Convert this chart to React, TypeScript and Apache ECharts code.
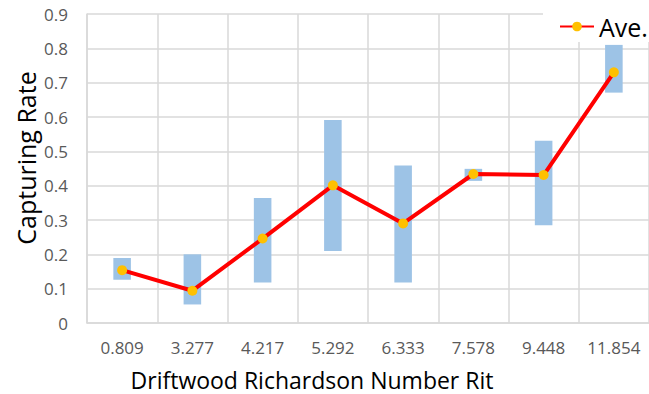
import React, { useEffect, useRef } from "react";
import * as echarts from "echarts";

const categories = ["0.809", "3.277", "4.217", "5.292", "6.333", "7.578", "9.448", "11.854"];
const minValues = [0.126, 0.054, 0.118, 0.21, 0.118, 0.414, 0.285, 0.671];
const maxValues = [0.189, 0.2, 0.364, 0.591, 0.459, 0.449, 0.531, 0.81];
const aveValues = [0.154, 0.094, 0.246, 0.401, 0.29, 0.434, 0.431, 0.73];
const yTicks = [0, 0.1, 0.2, 0.3, 0.4, 0.5, 0.6, 0.7, 0.8, 0.9];

const FONT = "'Open Sans', 'Noto Sans', sans-serif";

export default function App() {
  const ref = useRef<HTMLDivElement>(null);
  useEffect(() => {
    if (!ref.current) return;
    const chart = echarts.init(ref.current, undefined, { renderer: "svg" });
    const ranges = maxValues.map((m, i) => +(m - minValues[i]).toFixed(3));
    chart.setOption({
      animation: false,
      backgroundColor: "#ffffff",
      grid: { left: 87, right: -2, top: 14, bottom: 71, containLabel: false },
      legend: {
        data: ["Ave."],
        left: 543,
        top: 0,
        padding: [14, 12, 3, 16],
        backgroundColor: "#ffffff",
        itemWidth: 34,
        itemHeight: 12,
        itemGap: 4,
        textStyle: { fontSize: 25, color: "#000000", fontFamily: FONT },
      },
      xAxis: {
        type: "category",
        data: categories,
        boundaryGap: true,
        axisLine: { show: true, lineStyle: { color: "#D9D9D9", width: 1.5 } },
        axisTick: { show: false },
        splitLine: { show: true, lineStyle: { color: "#D9D9D9", width: 1.5 } },
        axisLabel: { color: "#595959", fontSize: 17, fontFamily: FONT, margin: 16 },
      },
      yAxis: {
        type: "value",
        min: 0,
        max: 0.9,
        interval: 0.1,
        axisLine: { show: true, lineStyle: { color: "#D9D9D9", width: 1.5 } },
        axisTick: { show: false },
        splitLine: { show: true, lineStyle: { color: "#D9D9D9", width: 1.5 } },
        axisLabel: {
          color: "#595959",
          fontSize: 17,
          fontFamily: FONT,
          margin: 19,
          formatter: (v: number) => {
            const t = yTicks.find((x) => Math.abs(x - v) < 1e-6);
            return t === 0 ? "0" : String(+(t ?? v).toFixed(1));
          },
        },
      },
      graphic: [
        {
          type: "text",
          x: 26,
          y: 158,
          rotation: Math.PI / 2,
          style: {
            text: "Capturing Rate",
            font: `25px ${FONT}`,
            fill: "#000000",
            align: "center",
            verticalAlign: "middle",
          },
        },
        {
          type: "text",
          x: 312,
          y: 391,
          style: {
            text: "Driftwood Richardson Number Rit",
            font: `23px ${FONT}`,
            fill: "#000000",
            align: "center",
            verticalAlign: "bottom",
          },
        },
      ],
      series: [
        {
          name: "base",
          type: "bar",
          stack: "range",
          data: minValues,
          itemStyle: { color: "transparent" },
          barWidth: "25%",
          silent: true,
        },
        {
          name: "range",
          type: "bar",
          stack: "range",
          data: ranges,
          itemStyle: { color: "#9DC3E6" },
          barWidth: "25%",
        },
        {
          name: "Ave.",
          type: "line",
          data: aveValues,
          lineStyle: { color: "#FF0000", width: 4 },
          itemStyle: { color: "#FFC000" },
          symbol: "circle",
          symbolSize: 10,
          z: 5,
        },
      ],
    });
    return () => chart.dispose();
  }, []);
  return <div ref={ref} style={{ width: 649, height: 394, position: "absolute", left: 0, top: 0 }} />;
}
